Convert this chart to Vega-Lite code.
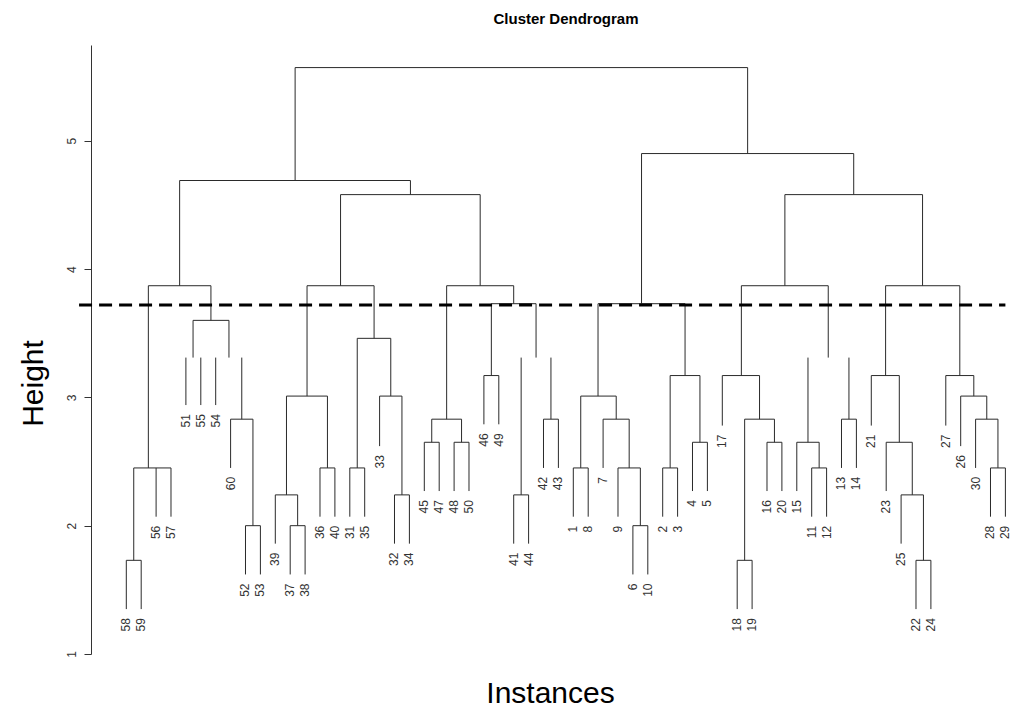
{
  "$schema": "https://vega.github.io/schema/vega-lite/v6.json",
  "width": 928,
  "height": 609,
  "autosize": "none",
  "padding": {"left": 91, "top": 45, "right": 0, "bottom": 69},
  "background": "white",
  "title": {"text": "Cluster Dendrogram", "fontSize": 15, "fontWeight": "bold", "anchor": "middle", "frame": "group", "offset": 6, "baseline": "alphabetic", "dx": 11, "color": "black"},
  "config": {"view": {"stroke": null}, "font": "Liberation Sans"},
  "datasets": {
    "segments": [
      {"x":12.33,"x2":42.7,"y":5.57,"y2":5.57},
      {"x":12.33,"x2":12.33,"y":5.57,"y2":4.69},
      {"x":42.7,"x2":42.7,"y":5.57,"y2":4.9},
      {"x":4.58,"x2":20.07,"y":4.69,"y2":4.69},
      {"x":4.58,"x2":4.58,"y":4.69,"y2":3.87},
      {"x":20.07,"x2":20.07,"y":4.69,"y2":4.58},
      {"x":15.38,"x2":24.75,"y":4.58,"y2":4.58},
      {"x":15.38,"x2":15.38,"y":4.58,"y2":3.87},
      {"x":24.75,"x2":24.75,"y":4.58,"y2":3.87},
      {"x":2.48,"x2":6.68,"y":3.87,"y2":3.87},
      {"x":2.48,"x2":2.48,"y":3.87,"y2":2.45},
      {"x":6.68,"x2":6.68,"y":3.87,"y2":3.6},
      {"x":1.5,"x2":4,"y":2.45,"y2":2.45},
      {"x":1.5,"x2":1.5,"y":2.45,"y2":1.73},
      {"x":3,"x2":3,"y":2.45,"y2":2.07,"leaf":"56"},
      {"x":4,"x2":4,"y":2.45,"y2":2.07,"leaf":"57"},
      {"x":1,"x2":2,"y":1.73,"y2":1.73},
      {"x":1,"x2":1,"y":1.73,"y2":1.35,"leaf":"58"},
      {"x":2,"x2":2,"y":1.73,"y2":1.35,"leaf":"59"},
      {"x":5.48,"x2":7.89,"y":3.6,"y2":3.6},
      {"x":5.48,"x2":5.48,"y":3.6,"y2":3.31},
      {"x":7.89,"x2":7.89,"y":3.6,"y2":3.31},
      {"x":5,"x2":5,"y":3.31,"y2":2.94,"leaf":"51"},
      {"x":6,"x2":6,"y":3.31,"y2":2.94,"leaf":"55"},
      {"x":7,"x2":7,"y":3.31,"y2":2.94,"leaf":"54"},
      {"x":8.75,"x2":8.75,"y":3.31,"y2":2.83},
      {"x":8,"x2":9.5,"y":2.83,"y2":2.83},
      {"x":8,"x2":8,"y":2.83,"y2":2.45,"leaf":"60"},
      {"x":9.5,"x2":9.5,"y":2.83,"y2":2.0},
      {"x":9,"x2":10,"y":2.0,"y2":2.0},
      {"x":9,"x2":9,"y":2.0,"y2":1.62,"leaf":"52"},
      {"x":10,"x2":10,"y":2.0,"y2":1.62,"leaf":"53"},
      {"x":13.13,"x2":17.63,"y":3.87,"y2":3.87},
      {"x":13.13,"x2":13.13,"y":3.87,"y2":3.01},
      {"x":17.63,"x2":17.63,"y":3.87,"y2":3.46},
      {"x":11.75,"x2":14.5,"y":3.01,"y2":3.01},
      {"x":11.75,"x2":11.75,"y":3.01,"y2":2.24},
      {"x":14.5,"x2":14.5,"y":3.01,"y2":2.45},
      {"x":11,"x2":12.5,"y":2.24,"y2":2.24},
      {"x":11,"x2":11,"y":2.24,"y2":1.86,"leaf":"39"},
      {"x":12.5,"x2":12.5,"y":2.24,"y2":2.0},
      {"x":12,"x2":13,"y":2.0,"y2":2.0},
      {"x":12,"x2":12,"y":2.0,"y2":1.62,"leaf":"37"},
      {"x":13,"x2":13,"y":2.0,"y2":1.62,"leaf":"38"},
      {"x":14,"x2":15,"y":2.45,"y2":2.45},
      {"x":14,"x2":14,"y":2.45,"y2":2.07,"leaf":"36"},
      {"x":15,"x2":15,"y":2.45,"y2":2.07,"leaf":"40"},
      {"x":16.5,"x2":18.75,"y":3.46,"y2":3.46},
      {"x":16.5,"x2":16.5,"y":3.46,"y2":2.45},
      {"x":18.75,"x2":18.75,"y":3.46,"y2":3.01},
      {"x":16,"x2":17,"y":2.45,"y2":2.45},
      {"x":16,"x2":16,"y":2.45,"y2":2.07,"leaf":"31"},
      {"x":17,"x2":17,"y":2.45,"y2":2.07,"leaf":"35"},
      {"x":18,"x2":19.5,"y":3.01,"y2":3.01},
      {"x":18,"x2":18,"y":3.01,"y2":2.62,"leaf":"33"},
      {"x":19.5,"x2":19.5,"y":3.01,"y2":2.24},
      {"x":19,"x2":20,"y":2.24,"y2":2.24},
      {"x":19,"x2":19,"y":2.24,"y2":1.86,"leaf":"32"},
      {"x":20,"x2":20,"y":2.24,"y2":1.86,"leaf":"34"},
      {"x":22.5,"x2":27,"y":3.87,"y2":3.87},
      {"x":22.5,"x2":22.5,"y":3.87,"y2":2.83},
      {"x":27,"x2":27,"y":3.87,"y2":3.73},
      {"x":21.5,"x2":23.5,"y":2.83,"y2":2.83},
      {"x":21.5,"x2":21.5,"y":2.83,"y2":2.65},
      {"x":23.5,"x2":23.5,"y":2.83,"y2":2.65},
      {"x":21,"x2":22,"y":2.65,"y2":2.65},
      {"x":21,"x2":21,"y":2.65,"y2":2.27,"leaf":"45"},
      {"x":22,"x2":22,"y":2.65,"y2":2.27,"leaf":"47"},
      {"x":23,"x2":24,"y":2.65,"y2":2.65},
      {"x":23,"x2":23,"y":2.65,"y2":2.27,"leaf":"48"},
      {"x":24,"x2":24,"y":2.65,"y2":2.27,"leaf":"50"},
      {"x":25.5,"x2":28.5,"y":3.73,"y2":3.73},
      {"x":25.5,"x2":25.5,"y":3.73,"y2":3.17},
      {"x":28.5,"x2":28.5,"y":3.73,"y2":3.31},
      {"x":25,"x2":26,"y":3.17,"y2":3.17},
      {"x":25,"x2":25,"y":3.17,"y2":2.79,"leaf":"46"},
      {"x":26,"x2":26,"y":3.17,"y2":2.79,"leaf":"49"},
      {"x":27.5,"x2":27.5,"y":3.31,"y2":2.24},
      {"x":27,"x2":28,"y":2.24,"y2":2.24},
      {"x":27,"x2":27,"y":2.24,"y2":1.86,"leaf":"41"},
      {"x":28,"x2":28,"y":2.24,"y2":1.86,"leaf":"44"},
      {"x":29.5,"x2":29.5,"y":3.31,"y2":2.83},
      {"x":29,"x2":30,"y":2.83,"y2":2.83},
      {"x":29,"x2":29,"y":2.83,"y2":2.45,"leaf":"42"},
      {"x":30,"x2":30,"y":2.83,"y2":2.45,"leaf":"43"},
      {"x":35.58,"x2":49.82,"y":4.9,"y2":4.9},
      {"x":35.58,"x2":35.58,"y":4.9,"y2":3.73},
      {"x":49.82,"x2":49.82,"y":4.9,"y2":4.58},
      {"x":45.2,"x2":54.44,"y":4.58,"y2":4.58},
      {"x":45.2,"x2":45.2,"y":4.58,"y2":3.87},
      {"x":54.44,"x2":54.44,"y":4.58,"y2":3.87},
      {"x":32.66,"x2":38.5,"y":3.73,"y2":3.73},
      {"x":32.66,"x2":32.66,"y":3.73,"y2":3.01},
      {"x":38.5,"x2":38.5,"y":3.73,"y2":3.17},
      {"x":31.5,"x2":33.88,"y":3.01,"y2":3.01},
      {"x":31.5,"x2":31.5,"y":3.01,"y2":2.45},
      {"x":33.88,"x2":33.88,"y":3.01,"y2":2.83},
      {"x":31,"x2":32,"y":2.45,"y2":2.45},
      {"x":31,"x2":31,"y":2.45,"y2":2.07,"leaf":"1"},
      {"x":32,"x2":32,"y":2.45,"y2":2.07,"leaf":"8"},
      {"x":33,"x2":34.75,"y":2.83,"y2":2.83},
      {"x":33,"x2":33,"y":2.83,"y2":2.45,"leaf":"7"},
      {"x":34.75,"x2":34.75,"y":2.83,"y2":2.45},
      {"x":34,"x2":35.5,"y":2.45,"y2":2.45},
      {"x":34,"x2":34,"y":2.45,"y2":2.07,"leaf":"9"},
      {"x":35.5,"x2":35.5,"y":2.45,"y2":2.0},
      {"x":35,"x2":36,"y":2.0,"y2":2.0},
      {"x":35,"x2":35,"y":2.0,"y2":1.62,"leaf":"6"},
      {"x":36,"x2":36,"y":2.0,"y2":1.62,"leaf":"10"},
      {"x":37.5,"x2":39.5,"y":3.17,"y2":3.17},
      {"x":37.5,"x2":37.5,"y":3.17,"y2":2.45},
      {"x":39.5,"x2":39.5,"y":3.17,"y2":2.65},
      {"x":37,"x2":38,"y":2.45,"y2":2.45},
      {"x":37,"x2":37,"y":2.45,"y2":2.07,"leaf":"2"},
      {"x":38,"x2":38,"y":2.45,"y2":2.07,"leaf":"3"},
      {"x":39,"x2":40,"y":2.65,"y2":2.65},
      {"x":39,"x2":39,"y":2.65,"y2":2.27,"leaf":"4"},
      {"x":40,"x2":40,"y":2.65,"y2":2.27,"leaf":"5"},
      {"x":42.28,"x2":48.11,"y":3.87,"y2":3.87},
      {"x":42.28,"x2":42.28,"y":3.87,"y2":3.17},
      {"x":48.11,"x2":48.11,"y":3.87,"y2":3.31},
      {"x":41,"x2":43.5,"y":3.17,"y2":3.17},
      {"x":41,"x2":41,"y":3.17,"y2":2.78,"leaf":"17"},
      {"x":43.5,"x2":43.5,"y":3.17,"y2":2.83},
      {"x":42.5,"x2":44.5,"y":2.83,"y2":2.83},
      {"x":42.5,"x2":42.5,"y":2.83,"y2":1.73},
      {"x":44.5,"x2":44.5,"y":2.83,"y2":2.65},
      {"x":42,"x2":43,"y":1.73,"y2":1.73},
      {"x":42,"x2":42,"y":1.73,"y2":1.35,"leaf":"18"},
      {"x":43,"x2":43,"y":1.73,"y2":1.35,"leaf":"19"},
      {"x":44,"x2":45,"y":2.65,"y2":2.65},
      {"x":44,"x2":44,"y":2.65,"y2":2.27,"leaf":"16"},
      {"x":45,"x2":45,"y":2.65,"y2":2.27,"leaf":"20"},
      {"x":46.75,"x2":46.75,"y":3.31,"y2":2.65},
      {"x":46,"x2":47.5,"y":2.65,"y2":2.65},
      {"x":46,"x2":46,"y":2.65,"y2":2.27,"leaf":"15"},
      {"x":47.5,"x2":47.5,"y":2.65,"y2":2.45},
      {"x":47,"x2":48,"y":2.45,"y2":2.45},
      {"x":47,"x2":47,"y":2.45,"y2":2.07,"leaf":"11"},
      {"x":48,"x2":48,"y":2.45,"y2":2.07,"leaf":"12"},
      {"x":49.5,"x2":49.5,"y":3.31,"y2":2.83},
      {"x":49,"x2":50,"y":2.83,"y2":2.83},
      {"x":49,"x2":49,"y":2.83,"y2":2.45,"leaf":"13"},
      {"x":50,"x2":50,"y":2.83,"y2":2.45,"leaf":"14"},
      {"x":51.96,"x2":56.94,"y":3.87,"y2":3.87},
      {"x":51.96,"x2":51.96,"y":3.87,"y2":3.17},
      {"x":56.94,"x2":56.94,"y":3.87,"y2":3.17},
      {"x":51,"x2":52.88,"y":3.17,"y2":3.17},
      {"x":51,"x2":51,"y":3.17,"y2":2.78,"leaf":"21"},
      {"x":52.88,"x2":52.88,"y":3.17,"y2":2.65},
      {"x":52,"x2":53.75,"y":2.65,"y2":2.65},
      {"x":52,"x2":52,"y":2.65,"y2":2.27,"leaf":"23"},
      {"x":53.75,"x2":53.75,"y":2.65,"y2":2.24},
      {"x":53,"x2":54.5,"y":2.24,"y2":2.24},
      {"x":53,"x2":53,"y":2.24,"y2":1.86,"leaf":"25"},
      {"x":54.5,"x2":54.5,"y":2.24,"y2":1.73},
      {"x":54,"x2":55,"y":1.73,"y2":1.73},
      {"x":54,"x2":54,"y":1.73,"y2":1.35,"leaf":"22"},
      {"x":55,"x2":55,"y":1.73,"y2":1.35,"leaf":"24"},
      {"x":56,"x2":57.88,"y":3.17,"y2":3.17},
      {"x":56,"x2":56,"y":3.17,"y2":2.78,"leaf":"27"},
      {"x":57.88,"x2":57.88,"y":3.17,"y2":3.01},
      {"x":57,"x2":58.75,"y":3.01,"y2":3.01},
      {"x":57,"x2":57,"y":3.01,"y2":2.62,"leaf":"26"},
      {"x":58.75,"x2":58.75,"y":3.01,"y2":2.83},
      {"x":58,"x2":59.5,"y":2.83,"y2":2.83},
      {"x":58,"x2":58,"y":2.83,"y2":2.45,"leaf":"30"},
      {"x":59.5,"x2":59.5,"y":2.83,"y2":2.45},
      {"x":59,"x2":60,"y":2.45,"y2":2.45},
      {"x":59,"x2":59,"y":2.45,"y2":2.07,"leaf":"28"},
      {"x":60,"x2":60,"y":2.45,"y2":2.07,"leaf":"29"}
    ],
    "cut": [{"from": -2.17, "to": 60.0, "height": 3.72}]
  },
  "layer": [
    {
      "data": {"name": "segments"},
      "mark": {"type": "rule", "color": "#2a2a2a", "strokeWidth": 1},
      "encoding": {
        "x": {
          "field": "x", "type": "quantitative",
          "scale": {"domain": [-1.369, 60.913], "nice": false, "zero": false},
          "axis": {"title": "Instances", "domain": false, "ticks": false, "labels": false, "grid": false,
                   "titleFontSize": 30, "titleFontWeight": "normal", "titleColor": "black",
                   "titleX": 459, "titleY": 48, "titleBaseline": "alphabetic", "titleAlign": "center"}
        },
        "x2": {"field": "x2"},
        "y": {
          "field": "y", "type": "quantitative",
          "scale": {"domain": [1, 5.746], "nice": false, "zero": false},
          "axis": {"title": "Height", "values": [1, 2, 3, 4, 5], "format": "d", "grid": false,
                   "domainColor": "#333", "tickColor": "#333", "tickSize": 7,
                   "labelAngle": 270, "labelAlign": "center", "labelBaseline": "bottom",
                   "labelPadding": 6, "labelFontSize": 12, "labelColor": "#333",
                   "labelFlush": false, "labelOverlap": false,
                   "titleFontSize": 30, "titleFontWeight": "normal", "titleColor": "black",
                   "titleAngle": 270, "titleX": -43, "titleY": 338, "titleBaseline": "bottom", "titleAlign": "center"}
        },
        "y2": {"field": "y2"}
      }
    },
    {
      "data": {"name": "segments"},
      "transform": [{"filter": "isValid(datum.leaf)"}],
      "mark": {"type": "text", "angle": 270, "align": "right", "baseline": "middle", "dx": -9, "fontSize": 12, "color": "#333"},
      "encoding": {
        "x": {"field": "x", "type": "quantitative"},
        "y": {"field": "y2", "type": "quantitative"},
        "text": {"field": "leaf"}
      }
    },
    {
      "data": {"name": "cut"},
      "mark": {"type": "rule", "color": "black", "strokeWidth": 3, "strokeDash": [13, 7]},
      "encoding": {
        "x": {"field": "from", "type": "quantitative"},
        "x2": {"field": "to"},
        "y": {"field": "height", "type": "quantitative"}
      }
    }
  ]
}
